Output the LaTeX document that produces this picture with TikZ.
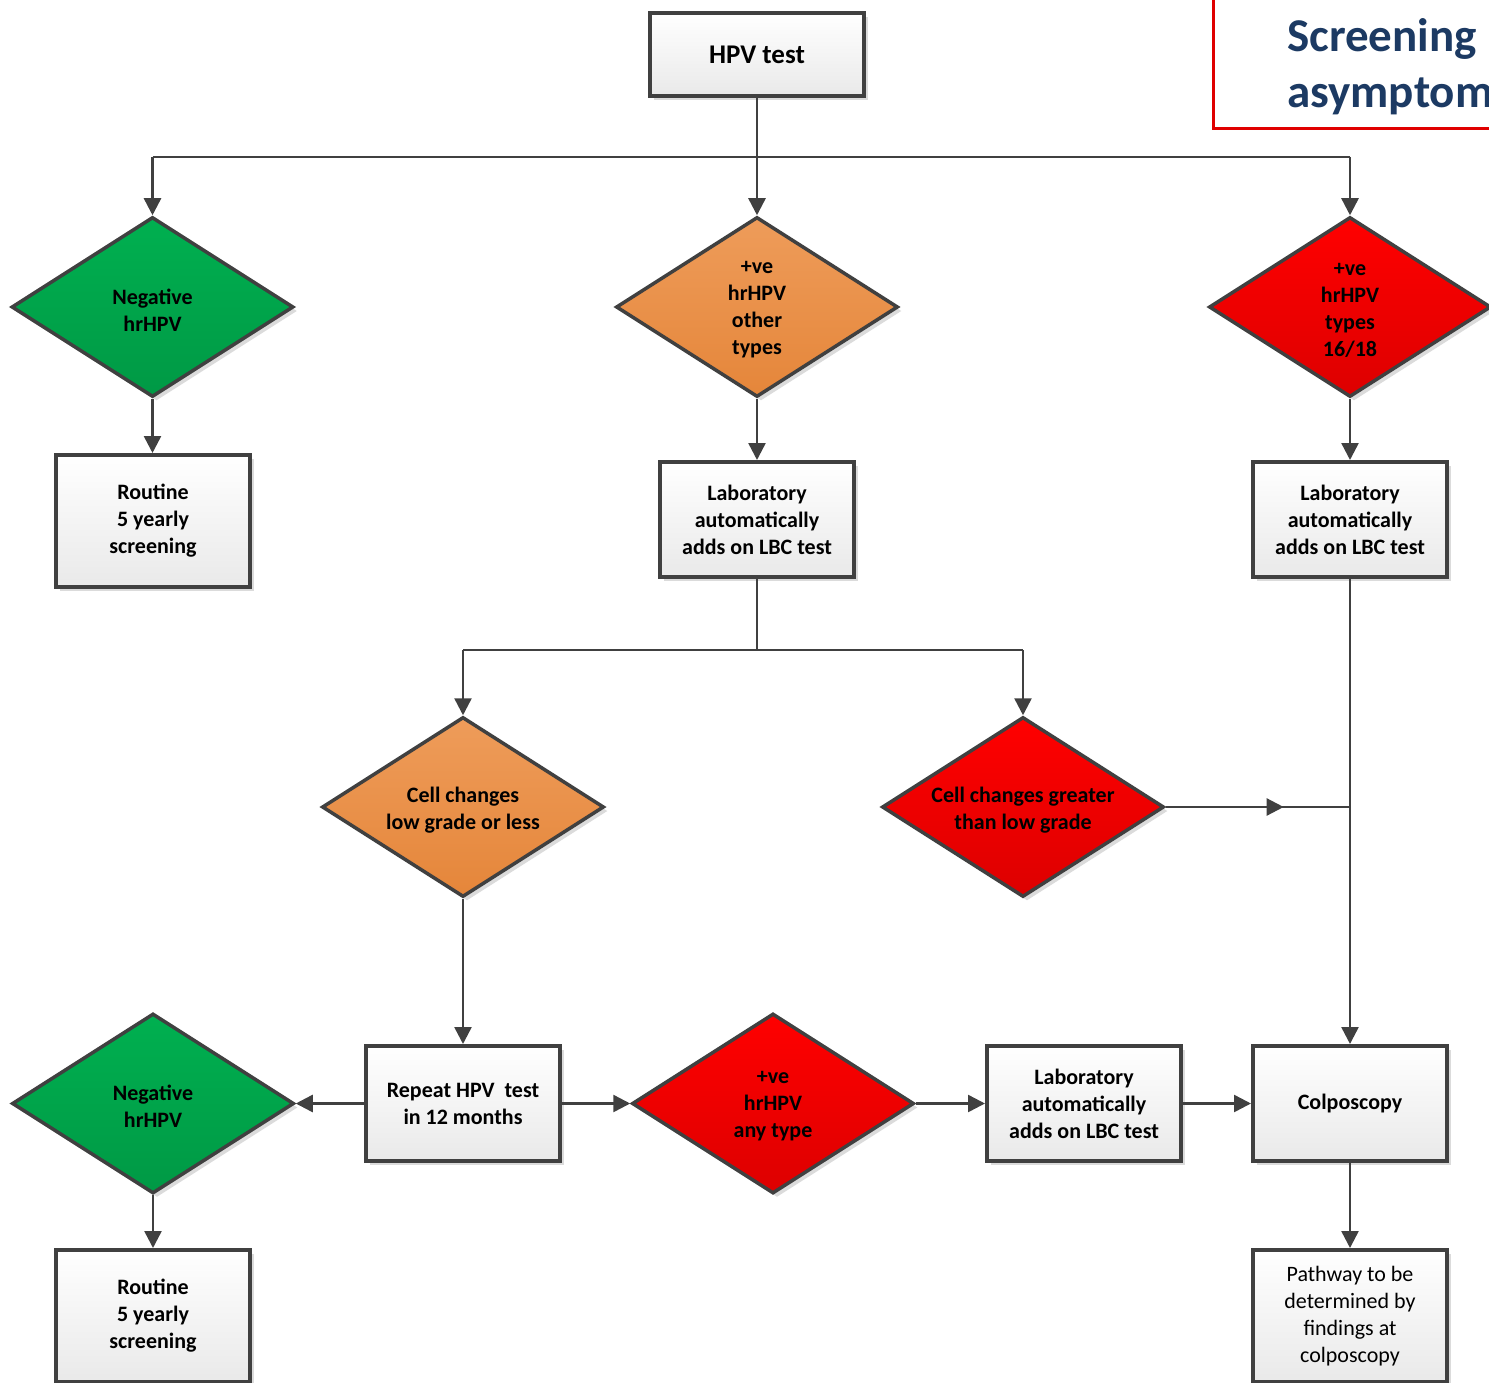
\documentclass[tikz,border=0pt]{standalone}
\usepackage{fontspec}
\setmainfont{Carlito}
\usetikzlibrary{shapes.geometric,arrows.meta,shadows,decorations.markings}
\definecolor{edge}{HTML}{404040}
\definecolor{boxbot}{HTML}{E9E9E9}
\definecolor{grtop}{HTML}{00B050}
\definecolor{grbot}{HTML}{009945}
\definecolor{ortop}{HTML}{EE9C5A}
\definecolor{orbot}{HTML}{E5863A}
\definecolor{rdtop}{HTML}{FF0000}
\definecolor{rdbot}{HTML}{DD0000}
\definecolor{titred}{HTML}{E00000}
\definecolor{navy}{HTML}{1C3A63}
\tikzset{
  shad/.style={drop shadow={shadow xshift=4pt, shadow yshift=-4pt, fill=black!14, opacity=1}},
  box/.style={rectangle, draw=edge, line width=4pt, top color=white, bottom color=boxbot,
    minimum width=194pt, minimum height=115pt, align=center, inner sep=2pt,
    font=\bfseries\fontsize{22}{27}\selectfont, shad},
  dia/.style={diamond, draw=edge, line width=3.5pt, minimum width=282pt, minimum height=180pt,
    inner sep=0pt, shad},
  greenfill/.style={top color=grtop, bottom color=grbot},
  orangefill/.style={top color=ortop, bottom color=orbot},
  redfill/.style={top color=rdtop, bottom color=rdbot},
  dtext/.style={align=center, inner sep=0pt, text=black, yshift=-3pt, font=\bfseries\fontsize{22}{27}\selectfont},
  conn/.style={draw=edge, line width=2.5pt},
  arr/.style={conn, -{Triangle[width=17pt,length=17pt]}},
  midarrow/.style={postaction={decorate}, decoration={markings,
    mark=at position 0.64 with {\arrow[edge]{Triangle[width=17pt,length=17pt]}}}}
}
\begin{document}
\begin{tikzpicture}[x=1pt,y=-1pt]
\useasboundingbox (0,0) rectangle (1489,1383);
\clip (0,0) rectangle (1489,1383);

% title
\node[draw=titred, line width=2.5pt, fill=white, minimum width=300pt, minimum height=140pt,
  anchor=south west, inner sep=0pt] (titlebox) at (1212,130) {};
\node[anchor=base west, inner sep=0pt, text=navy, font=\bfseries\fontsize{47}{56}\selectfont] (t1) at (1287,52) {Screening};
\node[anchor=base west, inner sep=0pt, text=navy, font=\bfseries\fontsize{47}{56}\selectfont] (t2) at (1287,108) {asymptom};

% nodes
\node[box, minimum width=214pt, minimum height=83pt, font=\bfseries\fontsize{27}{32}\selectfont] (hpv) at (757,54.5) {HPV test};

\node[dia, greenfill, label={[dtext,name=neg1t]center:{Negative\\hrHPV}}] (neg1) at (152.5,307) {};
\node[dia, orangefill, label={[dtext,name=otht]center:{+ve\\hrHPV\\other\\types}}] (oth) at (757,307) {};
\node[dia, redfill, label={[dtext,name=p16t]center:{+ve\\hrHPV\\types\\16/18}}] (p16) at (1350,307) {};

\node[box, minimum height=132pt] (rout1) at (153,521) {Routine\\5 yearly\\screening};
\node[box] (lab1) at (757,519.5) {Laboratory\\automatically\\adds on LBC test};
\node[box] (lab2) at (1350,519.5) {Laboratory\\automatically\\adds on LBC test};

\node[dia, orangefill, label={[dtext,name=lowt]center:{Cell changes\\low grade or less}}] (low) at (463,807) {};
\node[dia, redfill, label={[dtext,name=hight]center:{Cell changes greater\\than low grade}}] (high) at (1023,807) {};

\node[dia, greenfill, label={[dtext,name=neg2t]center:{Negative\\hrHPV}}] (neg2) at (153,1103.5) {};
\node[box] (rep) at (463,1103.5) {Repeat HPV\ \ test\\in 12 months};
\node[dia, redfill, label={[dtext,name=anyt]center:{+ve\\hrHPV\\any type}}] (any) at (773,1103.5) {};
\node[box] (lab3) at (1084,1103.5) {Laboratory\\automatically\\adds on LBC test};
\node[box] (colp) at (1350,1103.5) {Colposcopy};

\node[box, minimum height=132pt] (rout2) at (153,1316) {Routine\\5 yearly\\screening};
\node[box, minimum height=132pt, font=\fontsize{22}{27}\selectfont] (path) at (1350,1316) {Pathway to be\\determined by\\findings at\\colposcopy};

% connectors
\coordinate (busL) at (152.5,157);
\coordinate (busR) at (1350,157);
\draw[conn] (busL) -- (busR);
\draw[arr] (hpv.south) -- (oth.north);
\draw[arr] (busL) -- (neg1.north);
\draw[arr] (busR) -- (p16.north);

\draw[arr] (neg1.south) -- (neg1.south |- rout1.north);
\draw[arr] (oth.south) -- (lab1.north);
\draw[arr] (p16.south) -- (lab2.north);

\coordinate (b2L) at (463,650);
\coordinate (b2R) at (1023,650);
\draw[conn] (lab1.south) -- (lab1.south |- b2L);
\draw[conn] (b2L) -- (b2R);
\draw[arr] (b2L) -- (low.north);
\draw[arr] (b2R) -- (high.north);

\coordinate (j) at (1350,807);
\draw[conn, midarrow] (high.east) -- (j);
\draw[arr] (lab2.south) -- (colp.north);

\draw[arr] (low.south) -- (rep.north);
\draw[arr] (rep.west) -- (neg2.east);
\draw[arr] (rep.east) -- (any.west);
\draw[arr] (any.east) -- (lab3.west);
\draw[arr] (lab3.east) -- (colp.west);
\draw[arr] (neg2.south) -- (neg2.south |- rout2.north);
\draw[arr] (colp.south) -- (path.north);
\end{tikzpicture}
\end{document}
